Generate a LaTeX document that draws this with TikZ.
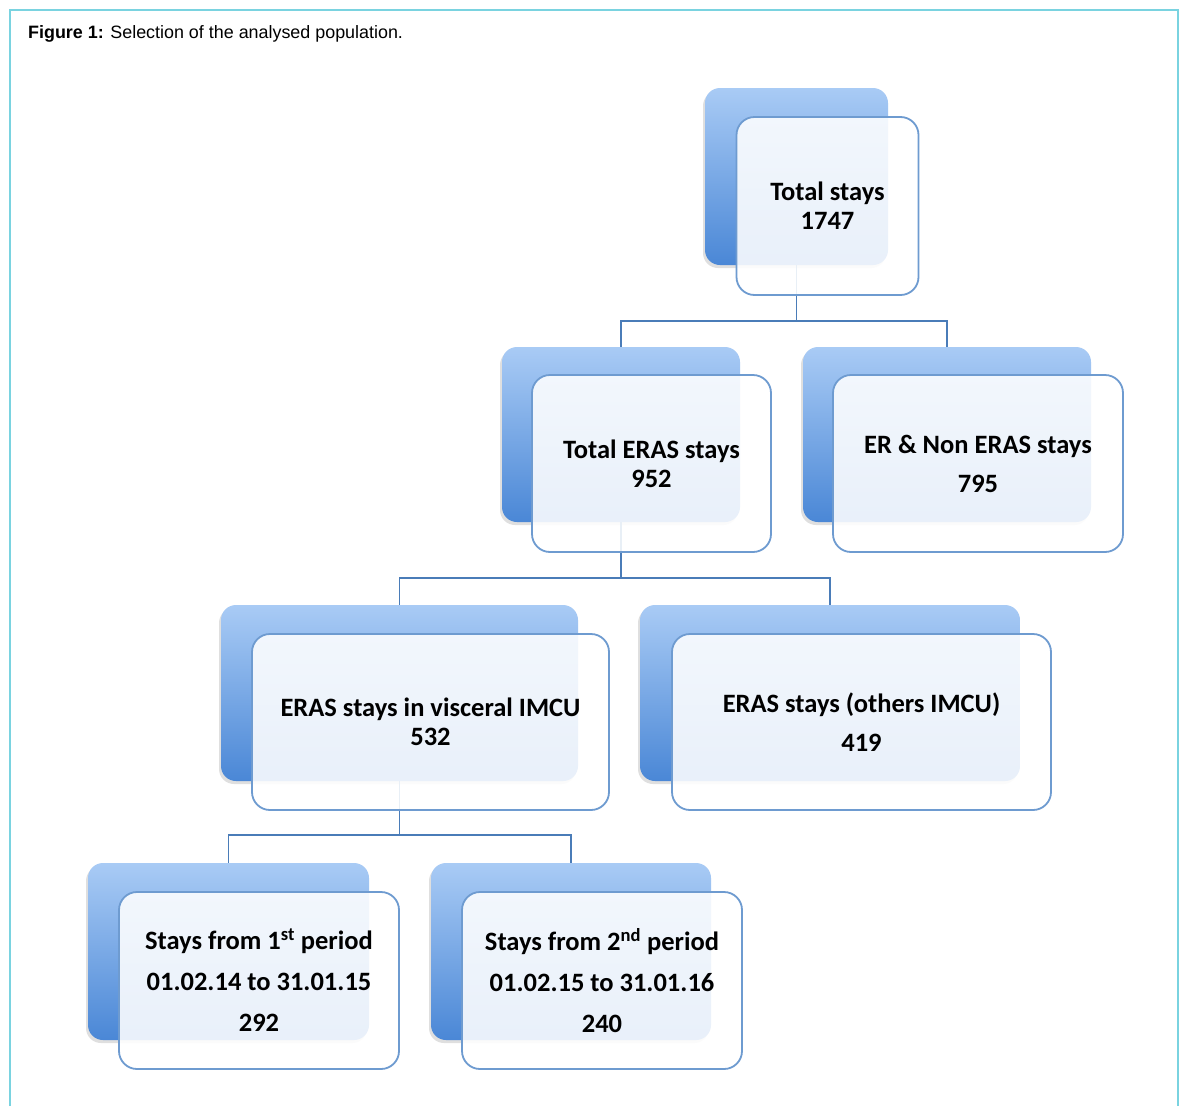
\documentclass[tikz,border=0pt]{standalone}
\usepackage{fontspec}
\setmainfont{Carlito}
\newfontfamily\captionfont{Liberation Sans}
\usetikzlibrary{shadows}

\definecolor{backtop}{HTML}{A9CBF5}
\definecolor{backbot}{HTML}{4A87D6}
\definecolor{frontline}{HTML}{6E9BD0}
\definecolor{connline}{HTML}{4A7CB8}
\definecolor{framecyan}{HTML}{7AD3E0}

\begin{document}
\begin{tikzpicture}[x=1pt,y=-1pt,
    back/.style={rounded corners=15pt, top color=backtop, bottom color=backbot,
        inner sep=0pt, drop shadow={shadow xshift=-2pt, shadow yshift=-3pt, opacity=0.25}},
    front/.style={draw=frontline, line width=1.8pt, rounded corners=18pt,
        fill=white, fill opacity=0.88, text opacity=1, text=black, inner sep=0pt,
        align=center, font=\fontsize{26.5}{29}\selectfont\bfseries},
    conn/.style={draw=connline, line width=1.8pt}]
    \fill[white] (0,0) rectangle (1180,1106);
    \useasboundingbox (0,0) rectangle (1180,1106);
    \draw[framecyan, line width=2pt] (10,1106) -- (10,10) -- (1178,10) -- (1178,1106);

    % Caption
    \node[anchor=west, inner sep=0pt, font=\captionfont\fontsize{17.9}{21}\selectfont] (caption) at (28,34)
        {\textbf{Figure 1:} Selection of the analysed population.};

    % Back boxes
    \node[back, minimum width=183pt, minimum height=177pt] (totalB) at (796.5,176.5) {};
    \node[back, minimum width=238pt, minimum height=175pt] (erasB) at (621,434.5) {};
    \node[back, minimum width=288pt, minimum height=175pt] (nonerasB) at (947,434.5) {};
    \node[back, minimum width=357pt, minimum height=176pt] (viscB) at (399.5,693) {};
    \node[back, minimum width=380pt, minimum height=176pt] (othersB) at (830,693) {};
    \node[back, minimum width=281pt, minimum height=177pt] (firstB) at (228.5,951.5) {};
    \node[back, minimum width=280pt, minimum height=177pt] (secondB) at (571,951.5) {};

    % Connectors
    \draw[conn] (totalB.south) -- ++(0,56) -| (erasB.north);
    \draw[conn] (totalB.south) -- ++(0,56) -| (nonerasB.north);
    \draw[conn] (erasB.south) -- ++(0,56) -| (viscB.north);
    \draw[conn] (erasB.south) -- ++(0,56) -| (othersB.north);
    \draw[conn] (viscB.south) -- ++(0,54) -| (firstB.north);
    \draw[conn] (viscB.south) -- ++(0,54) -| (secondB.north);

    % Front boxes
    \node[front, minimum width=182pt, minimum height=178pt] (total) at (827.5,206)
        {Total stays\\1747};
    \node[front, minimum width=239pt, minimum height=177pt] (eras) at (651.5,463.5)
        {Total ERAS stays\\952};
    \node[front, minimum width=290pt, minimum height=177pt] (noneras) at (978,463.5)
        {ER \& Non ERAS stays\\[10pt]795};
    \node[front, minimum width=357pt, minimum height=176pt] (visc) at (430.5,722)
        {ERAS stays in visceral IMCU\\532};
    \node[front, minimum width=379pt, minimum height=176pt] (others) at (861.5,722)
        {ERAS stays (others IMCU)\\[10pt]419};
    \node[front, minimum width=280pt, minimum height=177pt] (first) at (259,980.5)
        {Stays from 1\textsuperscript{st} period\\[12pt]01.02.14 to 31.01.15\\[12pt]292};
    \node[front, minimum width=280pt, minimum height=177pt] (second) at (602,980.5)
        {Stays from 2\textsuperscript{nd} period\\[12pt]01.02.15 to 31.01.16\\[12pt]240};
\end{tikzpicture}
\end{document}
